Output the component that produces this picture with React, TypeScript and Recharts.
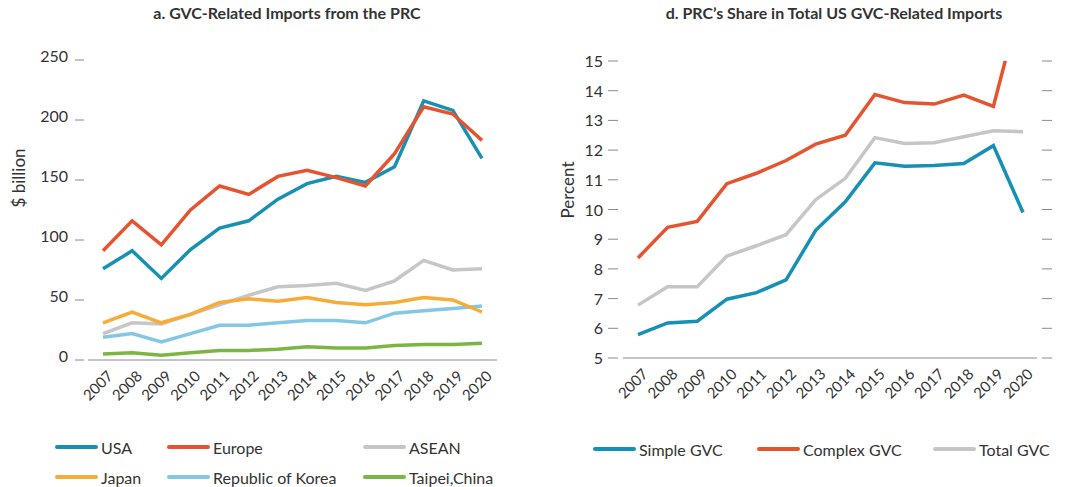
import { LineChart, Line, XAxis, YAxis } from 'recharts';

const YEARS = ['2007', '2008', '2009', '2010', '2011', '2012', '2013', '2014', '2015', '2016', '2017', '2018', '2019', '2020'];

// panel a, $ billion
const usa = [76, 91, 68, 92, 110, 116, 134, 147, 153, 148, 161, 216, 208, 168];
const europe = [91, 116, 96, 125, 145, 138, 153, 158, 152, 145, 172, 211, 205, 183];
const asean = [22, 31, 30, 38, 46, 54, 61, 62, 64, 58, 66, 83, 75, 76];
const japan = [31, 40, 31, 38, 48, 51, 49, 52, 48, 46, 48, 52, 50, 40];
const korea = [19, 22, 15, 22, 29, 29, 31, 33, 33, 31, 39, 41, 43, 45];
const taipei = [5, 6, 4, 6, 8, 8, 9, 11, 10, 10, 12, 13, 13, 14];

// panel d, percent
const simpleGvc = [5.79, 6.18, 6.24, 6.98, 7.2, 7.63, 9.3, 10.26, 11.57, 11.46, 11.48, 11.55, 12.15, 9.9];
const complexGvc = [8.37, 9.4, 9.6, 10.87, 11.22, 11.65, 12.2, 12.5, 13.87, 13.6, 13.55, 13.85, 13.47, 17.3];
const totalGvc = [6.78, 7.4, 7.4, 8.43, 8.78, 9.15, 10.33, 11.05, 12.42, 12.22, 12.25, 12.45, 12.65, 12.62];

const LEFT_TICKS = [0, 50, 100, 150, 200, 250];
const RIGHT_TICKS = [5, 6, 7, 8, 9, 10, 11, 12, 13, 14, 15];

const BLUE = '#1690b4';
const RED = '#e6532f';
const GRAY = '#c6c6c6';
const ORANGE = '#f6ac35';
const LIGHTBLUE = '#84c7e5';
const GREEN = '#7bb644';

const FONT = 'Lato, "Open Sans", sans-serif';
const TEXT = '#333';

const leftData = YEARS.map((year, i) => ({
  year,
  usa: usa[i],
  europe: europe[i],
  asean: asean[i],
  japan: japan[i],
  korea: korea[i],
  taipei: taipei[i],
}));

const rightData = YEARS.map((year, i) => ({
  year,
  simple: simpleGvc[i],
  complex: complexGvc[i],
  total: totalGvc[i],
}));

const YearTick = (props: any) => {
  const { x, y, payload } = props;
  return (
    <g transform={`translate(${x + 11},${y + 17})`}>
      <text transform="rotate(-45)" textAnchor="end" fontSize={15} fill={TEXT} fontFamily={FONT}>
        {payload.value}
      </text>
    </g>
  );
};

const LeftValueTick = (props: any) => {
  const { x, y, payload } = props;
  return (
    <g>
      <text x={x - 20} y={y + 2} textAnchor="end" fontSize={16} fill={TEXT} fontFamily={FONT}>
        {payload.value}
      </text>
      <line x1={x - 13} x2={x - 4} y1={y} y2={y} stroke="#8a8a8a" strokeWidth={1} />
    </g>
  );
};

const PctTick = (props: any) => {
  const { x, y, payload } = props;
  return (
    <g>
      <text x={x - 20} y={y + 6} textAnchor="end" fontSize={16} fill={TEXT} fontFamily={FONT}>
        {payload.value}
      </text>
      <line x1={x - 15} x2={x - 5} y1={y} y2={y} stroke="#8a8a8a" strokeWidth={1} />
    </g>
  );
};

const DashTick = (props: any) => {
  const { x, y } = props;
  return <line x1={x + 5} x2={x + 15} y1={y} y2={y} stroke="#8a8a8a" strokeWidth={1} />;
};

function LegendItem({ x, y, color, label }: { x: number; y: number; color: string; label: string }) {
  return (
    <div style={{ position: 'absolute', left: x, top: y - 10, height: 20, display: 'flex', alignItems: 'center', whiteSpace: 'nowrap' }}>
      <div style={{ width: 43, height: 4, borderRadius: 2, background: color, marginRight: 3 }} />
      <span style={{ fontSize: 16, color: TEXT, fontFamily: FONT }}>{label}</span>
    </div>
  );
}

const lineProps = { type: 'linear' as const, dot: false, strokeWidth: 3.5, isAnimationActive: false };

const titleStyle = { position: 'absolute' as const, top: 3, textAlign: 'center' as const, fontFamily: FONT, fontWeight: 700, fontSize: 16, color: TEXT };
const axisTitleStyle = { position: 'absolute' as const, transform: 'translate(-50%, -50%) rotate(-90deg)', whiteSpace: 'nowrap' as const, fontFamily: FONT, fontSize: 17, color: TEXT };

export default function App() {
  return (
    <div style={{ position: 'absolute', left: 0, top: 0, width: 1076, height: 487, background: '#fff', overflow: 'hidden' }}>
      <div style={{ position: 'absolute', left: 0, top: 0 }}>
        <LineChart width={540} height={487} data={leftData} margin={{ top: 60, right: 13, bottom: 97, left: 28 }}>
          <XAxis
            dataKey="year"
            padding={{ left: 15, right: 15 }}
            axisLine={{ stroke: '#8a8a8a', strokeWidth: 1 }}
            tickLine={false}
            tickSize={0}
            tickMargin={0}
            interval={0}
            height={30}
            tick={<YearTick />}
          />
          <YAxis
            yAxisId="l"
            domain={[0, 250]}
            ticks={LEFT_TICKS}
            width={60}
            axisLine={false}
            tickLine={false}
            tickSize={0}
            tickMargin={0}
            tick={<LeftValueTick />}
          />
          <YAxis
            yAxisId="r"
            orientation="right"
            domain={[0, 250]}
            ticks={LEFT_TICKS}
            width={30}
            axisLine={false}
            tickLine={false}
            tickSize={0}
            tickMargin={0}
            tick={<DashTick />}
          />
          <Line yAxisId="l" dataKey="taipei" stroke={GREEN} {...lineProps} />
          <Line yAxisId="l" dataKey="korea" stroke={LIGHTBLUE} {...lineProps} />
          <Line yAxisId="l" dataKey="asean" stroke={GRAY} {...lineProps} />
          <Line yAxisId="l" dataKey="japan" stroke={ORANGE} {...lineProps} />
          <Line yAxisId="l" dataKey="usa" stroke={BLUE} {...lineProps} />
          <Line yAxisId="l" dataKey="europe" stroke={RED} {...lineProps} />
        </LineChart>
      </div>

      <div style={{ position: 'absolute', left: 540, top: 0 }}>
        <LineChart width={536} height={487} data={rightData} margin={{ top: 61, right: 9, bottom: 99, left: 23 }}>
          <XAxis
            dataKey="year"
            padding={{ left: 15, right: 14 }}
            axisLine={{ stroke: '#8a8a8a', strokeWidth: 1 }}
            tickLine={false}
            tickSize={0}
            tickMargin={0}
            interval={0}
            height={30}
            tick={<YearTick />}
          />
          <YAxis
            yAxisId="l"
            domain={[5, 15]}
            ticks={RIGHT_TICKS}
            allowDataOverflow
            width={60}
            axisLine={false}
            tickLine={false}
            tickSize={0}
            tickMargin={0}
            tick={<PctTick />}
          />
          <YAxis
            yAxisId="r"
            orientation="right"
            domain={[5, 15]}
            ticks={RIGHT_TICKS}
            allowDataOverflow
            width={30}
            axisLine={false}
            tickLine={false}
            tickSize={0}
            tickMargin={0}
            tick={<DashTick />}
          />
          <Line yAxisId="l" dataKey="total" stroke={GRAY} {...lineProps} />
          <Line yAxisId="l" dataKey="simple" stroke={BLUE} {...lineProps} />
          <Line yAxisId="l" dataKey="complex" stroke={RED} {...lineProps} />
        </LineChart>
      </div>

      <div style={{ ...titleStyle, left: 0, width: 574 }}>a. GVC-Related Imports from the PRC</div>
      <div style={{ ...titleStyle, left: 534, width: 600 }}>d. PRC’s Share in Total US GVC-Related Imports</div>

      <div style={{ ...axisTitleStyle, left: 18, top: 178 }}>$ billion</div>
      <div style={{ ...axisTitleStyle, left: 567, top: 190 }}>Percent</div>

      <LegendItem x={55} y={447} color={BLUE} label="USA" />
      <LegendItem x={167} y={447} color={RED} label="Europe" />
      <LegendItem x={363} y={447} color={GRAY} label="ASEAN" />
      <LegendItem x={55} y={477} color={ORANGE} label="Japan" />
      <LegendItem x={167} y={477} color={LIGHTBLUE} label="Republic of Korea" />
      <LegendItem x={363} y={477} color={GREEN} label="Taipei,China" />

      <LegendItem x={593} y={449} color={BLUE} label="Simple GVC" />
      <LegendItem x={757} y={449} color={RED} label="Complex GVC" />
      <LegendItem x={933} y={449} color={GRAY} label="Total GVC" />
    </div>
  );
}
